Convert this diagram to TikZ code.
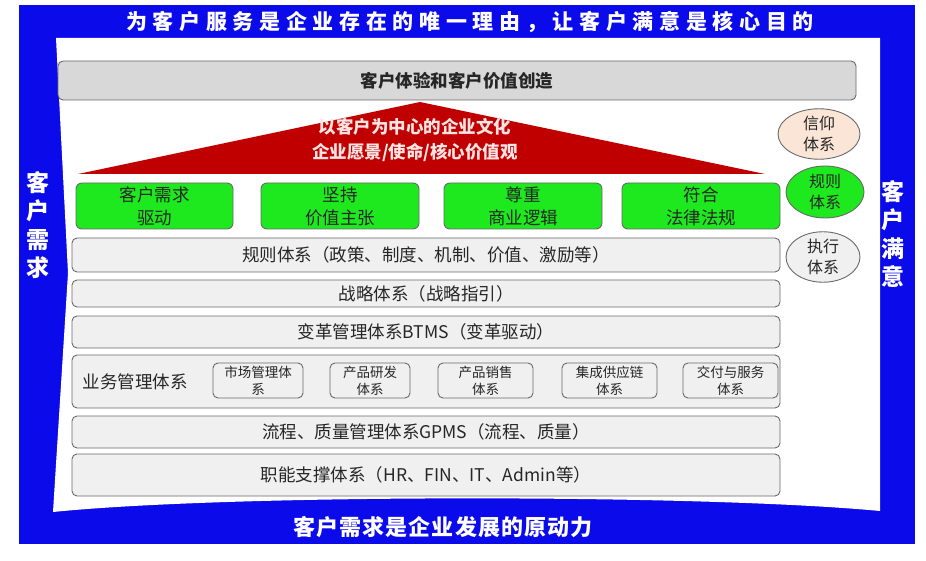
\documentclass[tikz,border=0pt]{standalone}
\usepackage{fontspec}
\setmainfont{Noto Sans CJK SC}
\newfontfamily\titlefont[LetterSpace=27]{Noto Sans CJK SC}
\newfontfamily\bandfont[LetterSpace=5]{Noto Sans CJK SC}
\usetikzlibrary{shapes.geometric}
\definecolor{bandblue}{RGB}{10,10,235}
\definecolor{rowfill}{RGB}{240,240,240}
\definecolor{rowdraw}{RGB}{105,105,105}
\definecolor{roofred}{RGB}{192,0,0}
\definecolor{boxgreen}{RGB}{30,232,30}
\definecolor{peach}{RGB}{251,229,214}
\definecolor{txt}{RGB}{38,38,38}
\definecolor{topgray}{RGB}{216,216,216}
\definecolor{rooftxt}{RGB}{255,228,228}
\tikzset{
  rowbox/.style={draw=rowdraw, fill=rowfill, rounded corners=5pt, line width=0.9pt,
    inner sep=0pt, minimum width=708pt, text=txt, font=\fontsize{17.5}{20}\selectfont},
  greenbox/.style={draw=rowdraw, fill=boxgreen, rounded corners=6pt, line width=0.9pt,
    inner sep=0pt, minimum height=46pt, align=center, text=txt,
    font=\fontsize{17.5}{23}\selectfont},
  subbox/.style={draw=rowdraw, fill=rowfill, rounded corners=5pt, line width=0.9pt,
    inner sep=0pt, minimum height=35pt, align=center, text=txt,
    font=\fontsize{13.5}{17}\selectfont},
  oval/.style={ellipse, draw=rowdraw, line width=0.9pt, inner sep=0pt, align=center,
    text=txt, font=\fontsize{16}{21}\selectfont},
  sidetext/.style={text=white, align=center, font=\bfseries\fontsize{23}{28.5}\selectfont},
}
\begin{document}
\begin{tikzpicture}[x=1pt,y=-1pt]
\useasboundingbox (0,0) rectangle (926,561);
\fill[white] (0,0) rectangle (926,561);
% blue frame
\fill[bandblue] (19,5) rectangle (915,544);
\fill[white] (56,38) -- (880,38) -- (880,511) .. controls (700,494) and (230,494) .. (53,512) -- (68,273) -- cycle;
% title and bands
\node[text=white, font=\titlefont\bfseries\fontsize{21}{24}\selectfont] (title) at (470,22) {为客户服务是企业存在的唯一理由，让客户满意是核心目的};
\node[text=white, font=\bandfont\bfseries\fontsize{22}{26}\selectfont] (bottom) at (443,527) {客户需求是企业发展的原动力};
\node[sidetext] (left) at (38,225) {客\\户\\需\\求};
\node[sidetext] (right) at (893,234) {客\\户\\满\\意};
% top box
\node[draw=rowdraw, fill=topgray, rounded corners=5pt, line width=0.9pt, inner sep=0pt,
  minimum width=798pt, minimum height=39pt, text=txt, font=\bfseries\fontsize{17.5}{20}\selectfont]
  (top) at (457,80.5) {客户体验和客户价值创造};
% roof
\fill[roofred] (420,102) -- (765,174) -- (78,174) -- cycle;
\node[text=rooftxt, align=center, font=\bfseries\fontsize{17.5}{25}\selectfont] (roof) at (415,140)
  {以客户为中心的企业文化\\企业愿景/使命/核心价值观};
% green boxes
\node[greenbox, minimum width=157pt] (g1) at (154.5,206) {客户需求\\驱动};
\node[greenbox, minimum width=158pt] (g2) at (340,206) {坚持\\价值主张};
\node[greenbox, minimum width=158pt] (g3) at (523,206) {尊重\\商业逻辑};
\node[greenbox, minimum width=158pt] (g4) at (701,206) {符合\\法律法规};
% rows
\node[rowbox, minimum height=34pt] (r1) at (426,255) {规则体系（政策、制度、机制、价值、激励等）};
\node[rowbox, minimum height=27pt] (r2) at (426,293.5) {战略体系（战略指引）};
\node[rowbox, minimum height=32pt] (r3) at (426,332) {变革管理体系BTMS（变革驱动）};
\node[rowbox, minimum height=53pt] (r4) at (426,381.5) {};
\node[rowbox, minimum height=32pt] (r5) at (426,432) {流程、质量管理体系GPMS（流程、质量）};
\node[rowbox, minimum height=42pt] (r6) at (426,475) {职能支撑体系（HR、FIN、IT、Admin等）};
\node[anchor=west, text=txt, font=\fontsize{17.5}{20}\selectfont] (biz) at (79,382) {业务管理体系};
\node[subbox, minimum width=90pt] (s1) at (258,380.5) {市场管理体\\系};
\node[subbox, minimum width=80pt] (s2) at (370,380.5) {产品研发\\体系};
\node[subbox, minimum width=95pt] (s3) at (485.5,380.5) {产品销售\\体系};
\node[subbox, minimum width=95pt] (s4) at (609.5,380.5) {集成供应链\\体系};
\node[subbox, minimum width=95pt] (s5) at (730.5,380.5) {交付与服务\\体系};
% ellipses
\node[oval, fill=peach, minimum width=82pt, minimum height=48pt] (e1) at (819,134) {信仰\\体系};
\node[oval, fill=boxgreen, minimum width=78pt, minimum height=52pt] (e2) at (825,192) {规则\\体系};
\node[oval, fill=rowfill, minimum width=74pt, minimum height=46pt] (e3) at (823,257) {执行\\体系};
\end{tikzpicture}
\end{document}
